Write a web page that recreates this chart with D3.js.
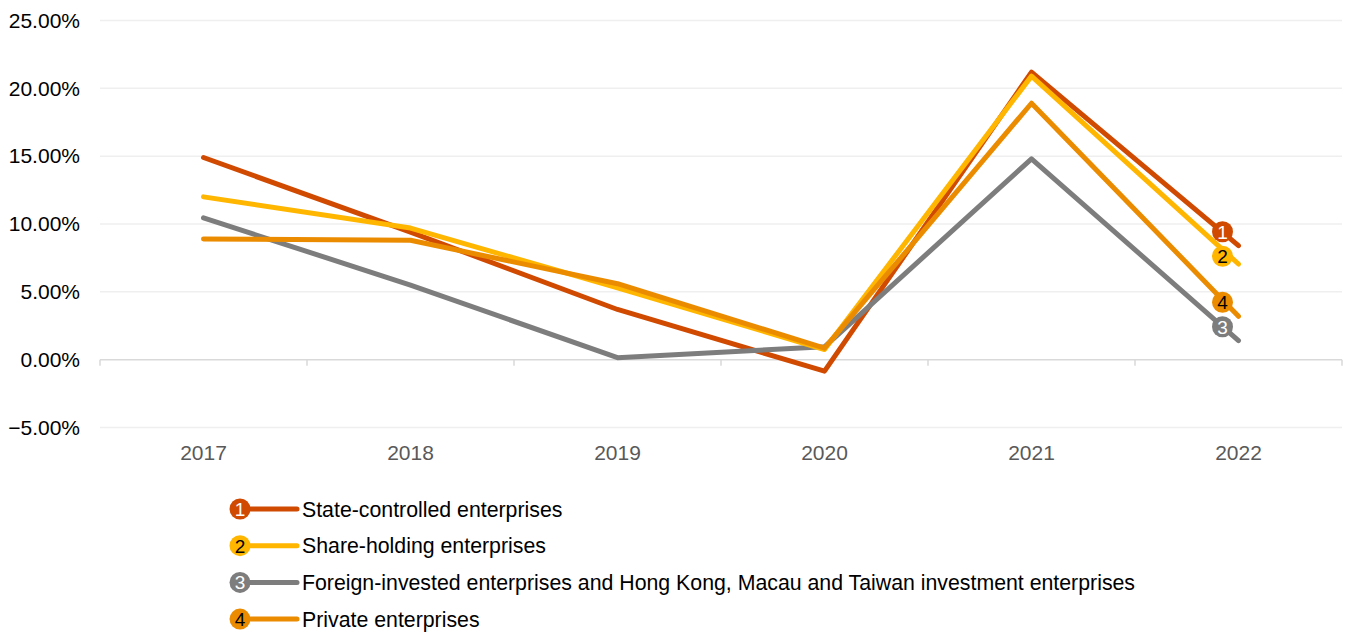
<!DOCTYPE html>
<html>
<head>
<meta charset="utf-8">
<script src="https://cdn.jsdelivr.net/npm/d3@7/dist/d3.min.js"></script>
<style>
  html, body { margin: 0; padding: 0; background: #ffffff; }
  svg { display: block; font-family: "Liberation Sans", Arial, sans-serif; }
</style>
</head>
<body>
<svg id="chart" width="1348" height="632"></svg>
<script>
// Annual growth rate by enterprise type (%)
const years = ["2017", "2018", "2019", "2020", "2021", "2022"];
const seriesNames = [
  "State-controlled enterprises",
  "Share-holding enterprises",
  "Foreign-invested enterprises and Hong Kong, Macau and Taiwan investment enterprises",
  "Private enterprises"
];
const stateControlled = [14.9, 9.4, 3.7, -0.85, 21.2, 8.4];
const shareHolding    = [12.0, 9.7, 5.3, 0.75, 20.9, 7.05];
const foreignInvested = [10.45, 5.5, 0.15, 0.95, 14.8, 1.4];
const privateEnt      = [8.9, 8.8, 5.6, 0.85, 18.9, 3.2];
const yTicks = [-5, 0, 5, 10, 15, 20, 25];

const colors = ["#D04A02", "#FFB600", "#7D7D7D", "#EB8C00"];
const badgeText = ["#ffffff", "#000000", "#ffffff", "#000000"];

const series = [
  { id: 1, name: seriesNames[0], values: stateControlled, color: colors[0], txt: badgeText[0] },
  { id: 2, name: seriesNames[1], values: shareHolding,    color: colors[1], txt: badgeText[1] },
  { id: 3, name: seriesNames[2], values: foreignInvested, color: colors[2], txt: badgeText[2] },
  { id: 4, name: seriesNames[3], values: privateEnt,      color: colors[3], txt: badgeText[3] }
];
// drawing order for the lines
const drawOrder = [0, 2, 1, 3];

const svg = d3.select("#chart");
const plotLeft = 100, plotRight = 1342, plotTop = 20.5, plotBottom = 427.5;
const labelSize = 21, badgeR = 10.5, badgeFont = 19;

const x = d3.scaleBand().domain(years).range([plotLeft, plotRight]);
const y = d3.scaleLinear().domain([-5, 25]).range([plotBottom, plotTop]);
const cx = d => x(d) + x.bandwidth() / 2;

// horizontal gridlines
svg.append("g").selectAll("line")
  .data(yTicks.filter(t => t !== 0))
  .join("line")
  .attr("x1", plotLeft).attr("x2", plotRight)
  .attr("y1", d => y(d)).attr("y2", d => y(d))
  .attr("stroke", "#EFEFEF").attr("stroke-width", 1.5);

// y-axis labels
const yAxis = d3.axisLeft(y).tickValues(yTicks)
  .tickFormat(d => d3.format(".2f")(d) + "%").tickSize(0).tickPadding(20);
const gy = svg.append("g").attr("transform", `translate(${plotLeft},0)`).call(yAxis);
gy.select(".domain").remove();
gy.selectAll("text").attr("font-size", labelSize).attr("fill", "#000")
  .attr("font-family", "'Liberation Sans', Arial, sans-serif");

// zero baseline with category boundary ticks
svg.append("line")
  .attr("x1", plotLeft).attr("x2", plotRight)
  .attr("y1", y(0)).attr("y2", y(0))
  .attr("stroke", "#D9D9D9").attr("stroke-width", 1.5);
const boundaries = years.map(d => x(d)).concat([plotRight]);
svg.append("g").selectAll("line")
  .data(boundaries).join("line")
  .attr("x1", d => d).attr("x2", d => d)
  .attr("y1", y(0)).attr("y2", y(0) + 6)
  .attr("stroke", "#D9D9D9").attr("stroke-width", 1.5);

// x-axis labels
svg.append("g").selectAll("text")
  .data(years).join("text")
  .attr("x", d => cx(d)).attr("y", 460)
  .attr("text-anchor", "middle")
  .attr("font-size", labelSize).attr("fill", "#595959")
  .text(d => d);

// lines
const line = d3.line().x((d, i) => cx(years[i])).y(d => y(d));
const linesG = svg.append("g");
drawOrder.forEach(k => {
  const s = series[k];
  linesG.append("path")
    .attr("d", line(s.values))
    .attr("fill", "none")
    .attr("stroke", s.color)
    .attr("stroke-width", 5)
    .attr("stroke-linecap", "round")
    .attr("stroke-linejoin", "round");
});

// numbered badges up-left of each line end, pushed apart when they collide
const badgeDx = -16, badgeDy = -14, badgeGap = 24.5;
const lastYear = years[years.length - 1];
const badgePos = series.map(s => ({
  s,
  bx: cx(lastYear) + badgeDx,
  by: y(s.values[s.values.length - 1]) + badgeDy
})).sort((a, b) => a.by - b.by);
for (let i = 1; i < badgePos.length; i++) {
  if (badgePos[i].by - badgePos[i - 1].by < badgeGap) {
    badgePos[i].by = badgePos[i - 1].by + badgeGap;
  }
}
const badges = svg.append("g");
badgePos.forEach(p => {
  const g = badges.append("g").attr("transform", `translate(${p.bx},${p.by})`);
  g.append("circle").attr("r", badgeR).attr("fill", p.s.color);
  g.append("text").attr("text-anchor", "middle").attr("dy", "0.36em")
    .attr("font-size", badgeFont).attr("fill", p.s.txt).text(p.s.id);
});

// legend
const legendX = 240, legendY = 509, legendStep = 36.7;
const legend = svg.append("g");
series.forEach((s, i) => {
  const ly = legendY + i * legendStep;
  const g = legend.append("g").attr("transform", `translate(${legendX},${ly})`);
  g.append("line").attr("x1", 0).attr("x2", 57).attr("y1", 0).attr("y2", 0)
    .attr("stroke", s.color).attr("stroke-width", 5).attr("stroke-linecap", "round");
  g.append("circle").attr("r", badgeR).attr("fill", s.color);
  g.append("text").attr("text-anchor", "middle").attr("dy", "0.36em")
    .attr("font-size", badgeFont).attr("fill", s.txt).text(s.id);
  g.append("text").attr("x", 62).attr("dy", "0.36em")
    .attr("font-size", 21.3).attr("fill", "#000").text(s.name);
});
</script>
</body>
</html>
